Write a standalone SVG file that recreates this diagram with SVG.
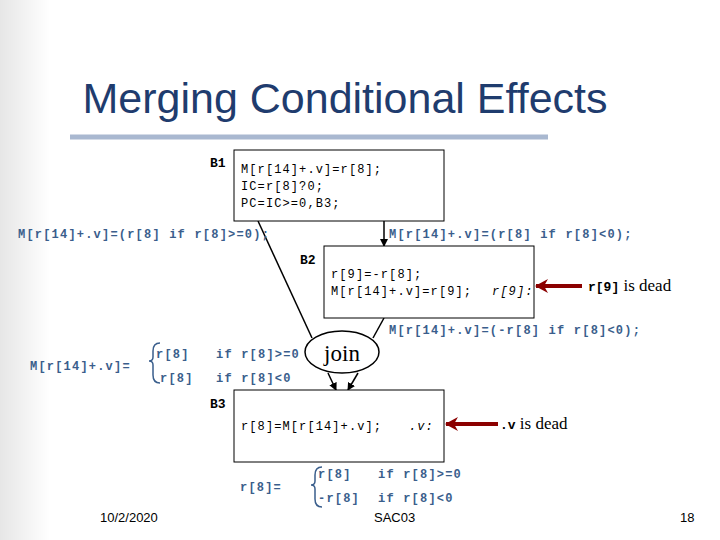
<svg xmlns="http://www.w3.org/2000/svg" width="720" height="540" viewBox="0 0 720 540">
<defs>
<marker id="ah" markerWidth="8" markerHeight="8" refX="7" refY="4" orient="auto" markerUnits="userSpaceOnUse"><path d="M0,0 L8,4 L0,8 z" fill="#000"/></marker>
<marker id="rh" markerWidth="14" markerHeight="14" refX="12" refY="7" orient="auto" markerUnits="userSpaceOnUse"><path d="M0,0 L13,7 L0,14 L4,7 z" fill="#8b0000"/></marker>
<linearGradient id="lg" x1="0" x2="1"><stop offset="0" stop-color="#e6e6e6"/><stop offset="1" stop-color="#ffffff"/></linearGradient>
</defs>
<style>
.box{fill:#fff;stroke:#000;stroke-width:1}
.code{font-family:"Liberation Mono",monospace;font-size:12px;letter-spacing:1.1px;fill:#000}
.lab{font-family:"Liberation Mono",monospace;font-size:13px;font-weight:bold;fill:#000}
.blue{font-family:"Liberation Mono",monospace;font-size:12px;letter-spacing:1.2px;font-weight:bold;fill:#3a5e8c}
.ln{stroke:#000;stroke-width:1.5;fill:none}
.dead{font-family:"Liberation Serif",serif;font-size:17px;fill:#000}
.foot{font-family:"Liberation Sans",sans-serif;font-size:13px;fill:#000}
</style>
<rect width="720" height="540" fill="#fff"/>
<rect width="50" height="540" fill="url(#lg)"/>
<text x="345" y="113" text-anchor="middle" font-family="Liberation Sans,sans-serif" font-size="43" fill="#1f3c6e">Merging Conditional Effects</text>
<line x1="70" y1="137" x2="548" y2="137" stroke="#a9b8d0" stroke-width="5"/>
<g id="connectors">
<line class="ln" x1="258" y1="221" x2="312" y2="338"/>
<line class="ln" x1="384" y1="221" x2="384" y2="246" marker-end="url(#ah)"/>
<line class="ln" x1="384" y1="318" x2="373" y2="338"/>
<line class="ln" x1="328" y1="373" x2="336" y2="390" marker-end="url(#ah)"/>
<line class="ln" x1="358" y1="373" x2="348" y2="390" marker-end="url(#ah)"/>
<line x1="582" y1="286" x2="536" y2="286" stroke="#8b0000" stroke-width="4" marker-end="url(#rh)"/>
<line x1="498" y1="424" x2="446" y2="424" stroke="#8b0000" stroke-width="4" marker-end="url(#rh)"/>
</g>
<g id="B1">
<rect class="box" x="234" y="150" width="210" height="71"/>
<text class="lab" x="210" y="167">B1</text>
<text class="code" x="241" y="173">M[r[14]+.v]=r[8];</text>
<text class="code" x="241" y="190">IC=r[8]?0;</text>
<text class="code" x="241" y="207">PC=IC&gt;=0,B3;</text>
</g>
<g id="B2">
<rect class="box" x="324" y="246" width="210" height="72"/>
<text class="lab" x="300" y="264">B2</text>
<text class="code" x="331" y="278">r[9]=-r[8];</text>
<text class="code" x="331" y="295">M[r[14]+.v]=r[9];</text>
<text class="code" x="492" y="295" font-style="italic">r[9]:</text>
</g>
<g id="join">
<ellipse cx="342" cy="352" rx="37" ry="21" fill="#fff" stroke="#000" stroke-width="1.5"/>
<text x="342" y="361" text-anchor="middle" font-family="Liberation Serif,serif" font-size="23">join</text>
</g>
<g id="B3">
<rect class="box" x="234" y="390" width="210" height="72"/>
<text class="lab" x="210" y="408">B3</text>
<text class="code" x="241" y="430">r[8]=M[r[14]+.v];</text>
<text class="code" x="409" y="430" font-style="italic">.v:</text>
</g>
<g id="labels">
<text class="blue" x="18" y="238">M[r[14]+.v]=(r[8] if r[8]&gt;=0);</text>
<text class="blue" x="389" y="238">M[r[14]+.v]=(r[8] if r[8]&lt;0);</text>
<text class="blue" x="389" y="334">M[r[14]+.v]=(-r[8] if r[8]&lt;0);</text>
<text class="blue" x="30" y="370">M[r[14]+.v]=</text>
<path d="M160,343 Q153,343 153,351 L153,357 Q153,361 149,361 Q153,361 153,365 L153,375 Q153,383 160,383" fill="none" stroke="#3a5e8c" stroke-width="1.5"/>
<text class="blue" x="156" y="358">r[8]</text>
<text class="blue" x="216" y="358">if r[8]&gt;=0</text>
<text class="blue" x="160" y="382">r[8]</text>
<text class="blue" x="216" y="382">if r[8]&lt;0</text>
<text class="blue" x="240" y="491">r[8]=</text>
<path d="M322,467 Q315,467 315,475 L315,481 Q315,485 311,485 Q315,485 315,489 L315,499 Q315,507 322,507" fill="none" stroke="#3a5e8c" stroke-width="1.5"/>
<text class="blue" x="318" y="478">r[8]</text>
<text class="blue" x="378" y="478">if r[8]&gt;=0</text>
<text class="blue" x="318" y="502">-r[8]</text>
<text class="blue" x="378" y="502">if r[8]&lt;0</text>
<text class="dead" x="588" y="291"><tspan font-family="Liberation Mono,monospace" font-size="13" font-weight="bold">r[9]</tspan> is dead</text>
<text class="dead" x="500" y="429"><tspan font-family="Liberation Mono,monospace" font-size="13" font-weight="bold">.v</tspan> is dead</text>
<text class="foot" x="100" y="522">10/2/2020</text>
<text class="foot" x="374" y="522">SAC03</text>
<text class="foot" x="680" y="522">18</text>
</g>
</svg>
